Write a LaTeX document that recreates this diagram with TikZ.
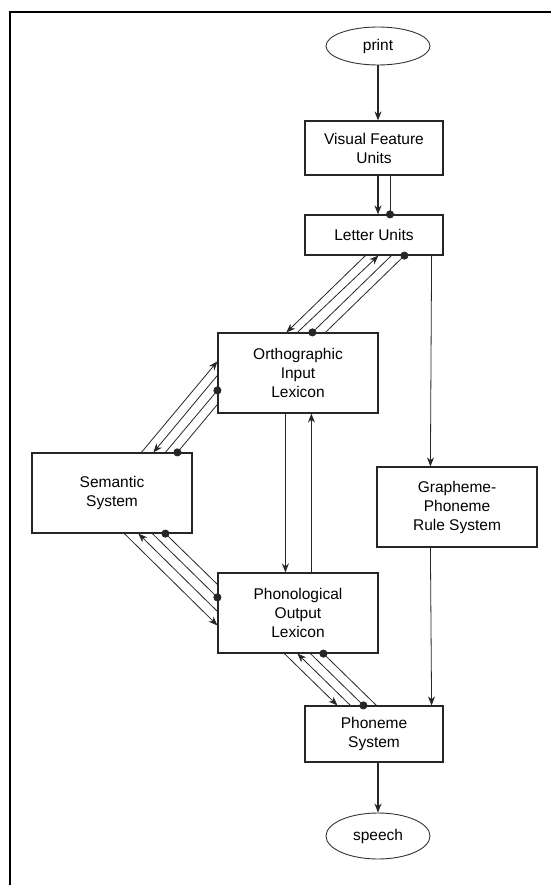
\documentclass[tikz,border=0pt]{standalone}
\usepackage{fontspec}
\setmainfont{Liberation Sans}
\usetikzlibrary{arrows.meta, positioning, shapes.geometric}

\begin{document}
\begin{tikzpicture}[x=1pt, y=-1pt,
	box/.style={draw=black!85, line width=1.2pt, align=center, inner sep=0pt, font=\fontsize{15.5}{19}\selectfont},
	term/.style={ellipse, draw=black!80, line width=0.9pt, inner sep=0pt, minimum width=104pt, font=\fontsize{15.5}{19}\selectfont},
	act/.style={-{Stealth[length=9pt, width=7pt]}, black!85, line width=0.8pt},
	inh/.style={-{Circle[length=8pt]}, shorten >=-4pt, black!85, line width=0.8pt},
	]
	\useasboundingbox (0,0) rectangle (551,885);
	\draw[line width=2.2pt] (10,885) -- (10,12) -- (551,12);

	\node[term, minimum height=38pt] (print) at (378,46) {print};
	\node[box, minimum width=138pt, minimum height=54pt] (vfu) at (374,148) {Visual Feature\\Units};
	\node[box, minimum width=138pt, minimum height=40pt] (lu) at (374,235) {Letter Units};
	\node[box, minimum width=160pt, minimum height=80pt] (oil) at (298,373) {Orthographic\\Input\\Lexicon};
	\node[box, minimum width=160pt, minimum height=80pt] (sem) at (112,493) {Semantic\\System};
	\node[box, minimum width=160pt, minimum height=80pt] (gpr) at (457,507) {Grapheme-\\Phoneme\\Rule System};
	\node[box, minimum width=160pt, minimum height=80pt] (pol) at (298,613) {Phonological\\Output\\Lexicon};
	\node[box, minimum width=138pt, minimum height=56pt] (ps) at (374,734) {Phoneme\\System};
	\node[term, minimum height=46pt] (speech) at (378,836) {speech};

	% main route
	\path[act, line width=1.2pt]
	(print) edge (print |- vfu.north)
	([xshift=4pt]vfu.south) edge ([xshift=4pt]lu.north)
	([xshift=68pt]oil.south west) edge ([xshift=68pt]pol.north west)
	([xshift=4pt]ps.south) edge (speech)
	;
	\path[act]
	([xshift=94pt]pol.north west) edge ([xshift=94pt]oil.south west)
	([xshift=-12pt]lu.south east) edge ([xshift=54pt]gpr.north west)
	([xshift=54pt]gpr.south west) edge ([xshift=-12pt]ps.north east)
	;
	\path
	([xshift=16pt]vfu.south) edge[inh] ([xshift=16pt]lu.north)
	% letters - orthographic lexicon
	([xshift=61pt]lu.south west) edge[act] ([xshift=69pt]oil.north west)
	([xshift=80pt]oil.north west) edge[act] ([xshift=74pt]lu.south west)
	([xshift=87pt]lu.south west) edge[inh] ([xshift=95pt]oil.north west)
	([xshift=108pt]oil.north west) edge[inh] ([xshift=100pt]lu.south west)
	% semantics - orthographic lexicon
	([xshift=110pt]sem.north west) edge[act] ([yshift=-29pt]oil.north west)
	([yshift=-43pt]oil.north west) edge[act] ([xshift=122pt]sem.north west)
	([xshift=134pt]sem.north west) edge[inh] ([yshift=-58pt]oil.north west)
	([yshift=-72pt]oil.north west) edge[inh] ([xshift=146pt]sem.north west)
	% semantics - phonological lexicon
	([xshift=93pt]sem.south west) edge[act] ([yshift=-53pt]pol.north west)
	([yshift=-39pt]pol.north west) edge[act] ([xshift=107pt]sem.south west)
	([xshift=121pt]sem.south west) edge[inh] ([yshift=-25pt]pol.north west)
	([yshift=-12pt]pol.north west) edge[inh] ([xshift=134pt]sem.south west)
	% phonological lexicon - phonemes
	([xshift=67pt]pol.south west) edge[act] ([xshift=33pt]ps.north west)
	([xshift=46pt]ps.north west) edge[act] ([xshift=80pt]pol.south west)
	([xshift=93pt]pol.south west) edge[inh] ([xshift=59pt]ps.north west)
	([xshift=72pt]ps.north west) edge[inh] ([xshift=106pt]pol.south west)
	;
\end{tikzpicture}
\end{document}
